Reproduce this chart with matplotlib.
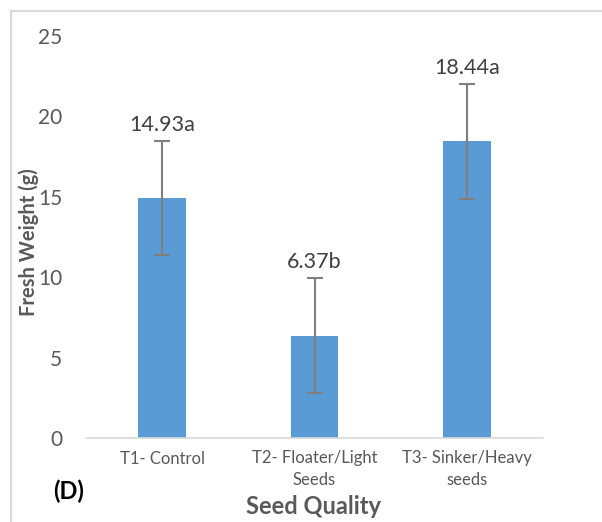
import matplotlib
matplotlib.use("Agg")
import matplotlib.pyplot as plt
from matplotlib.patches import Rectangle

categories = ["T1- Control", "T2- Floater/Light\nSeeds", "T3- Sinker/Heavy\nseeds"]
values = [14.93, 6.37, 18.44]
errors = [3.57, 3.6, 3.58]
labels = ["14.93a", "6.37b", "18.44a"]
yticks = [0, 5, 10, 15, 20, 25]

plt.rcParams['font.family'] = ['Lato', 'DejaVu Sans']
W, H = 602, 522
fig = plt.figure(figsize=(W/100, H/100), dpi=100)
fig.patches.append(Rectangle((11/W, -0.1), 1.2, (H-11)/H + 0.1, transform=fig.transFigure,
                             fill=False, edgecolor='#d9d9d9', linewidth=1.5))
ax = fig.add_axes([86/W, (H-438)/H, (543-86)/W, (438-36)/H])
x = list(range(len(categories)))
ax.bar(x, values, width=0.315, color='#5b9bd5', zorder=2)
ax.errorbar(x, values, yerr=errors, fmt='none', ecolor='#7f7f7f', elinewidth=1.5,
            capsize=6, capthick=1.5, zorder=3)
for xi, v, e, lab in zip(x, values, errors, labels):
    ax.annotate(lab, (xi, v + e), xytext=(0, 4), textcoords='offset points',
                ha='center', va='bottom', fontsize=15.5, color='#404040')
ax.set_xlim(-0.5, 2.5)
ax.set_ylim(0, 25)
ax.set_yticks(yticks)
ax.set_xticks(x)
ax.set_xticklabels(categories, fontsize=12, color='#595959', linespacing=1.45)
ax.tick_params(axis='y', labelsize=15, labelcolor='#595959', length=0, pad=17)
ax.tick_params(axis='x', length=0, pad=9)
for s in ['top', 'right', 'left']:
    ax.spines[s].set_visible(False)
ax.spines['bottom'].set_color('#d9d9d9')
ax.spines['bottom'].set_linewidth(1.2)
fig.text(29/W, 1 - 242/H, "Fresh Weight (g)", rotation=90, ha='center', va='center',
         fontsize=14.5, fontweight='bold', color='#595959')
fig.text(314/W, 1 - 506/H, "Seed Quality", ha='center', va='center',
         fontsize=17, fontweight='bold', color='#595959')
fig.text(69/W, 1 - 491/H, "(D)", ha='center', va='center',
         fontsize=17, fontweight='bold', color='black')
fig.savefig("out.png", dpi=100, facecolor='white')
